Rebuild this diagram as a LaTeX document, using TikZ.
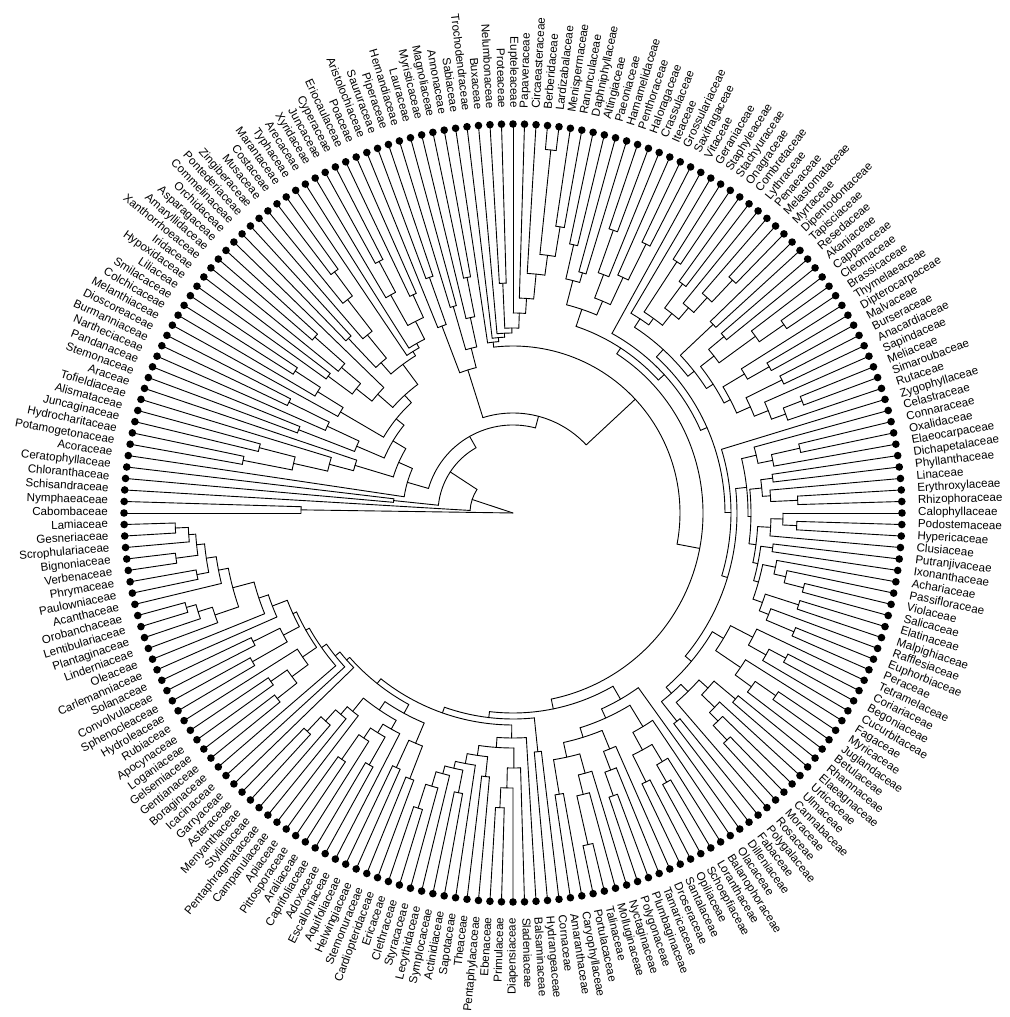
\documentclass[tikz,border=0pt]{standalone}
\usepackage{fontspec}
\setmainfont{Liberation Sans}
\newcount\tipcnt
\def\Rtip{389}
\def\stepang{1.6981132}
\def\kids{}
\newcommand\Lf{%
  \global\advance\tipcnt by 1\relax
  \pgfmathsetmacro\mytang{180-(\the\tipcnt-1)*\stepang}%
  \ifx\kids\empty\edef\kids{\mytang/\Rtip}\else\edef\kids{\kids,\mytang/\Rtip}\fi
}
\newcommand\Nd[2]{%
  \begingroup
  \def\kids{}%
  \def\myr{#1}%
  #2%
  \gdef\myksum{0}\gdef\mykcnt{0}\gdef\mykfirst{}\gdef\myklast{}%
  \foreach \ka/\kr in \kids {%
    \ifx\mykfirst\empty\xdef\mykfirst{\ka}\fi
    \xdef\myklast{\ka}%
    \pgfmathsetmacro\mytmp{\myksum+(\ka)}\xdef\myksum{\mytmp}%
    \pgfmathsetmacro\mytmp{\mykcnt+1}\xdef\mykcnt{\mytmp}%
    \draw[br] (\ka:\myr pt) -- (\ka:\kr pt);
  }%
  \ifdim\myr pt>0.5pt
    \draw[br] (\mykfirst:\myr pt) arc[start angle=\mykfirst, end angle=\myklast, radius=\myr pt];
  \fi
  \pgfmathsetmacro\mytmp{\myksum/\mykcnt}%
  \xdef\retA{\mytmp}\xdef\retR{\myr}%
  \endgroup
  \ifx\kids\empty\edef\kids{\retA/\retR}\else\edef\kids{\kids,\retA/\retR}\fi
}
% ---- tree definition (tips in label order) ----
\def\tNymph{\Nd{212}{\Lf\Lf}}
\def\tChlor{\Nd{120}{\Lf\Lf}}
\def\tAlism{\Nd{165}{\Nd{190}{\Nd{225}{\Nd{275}{\Lf\Lf}\Nd{262}{\Lf\Lf}}\Lf}\Lf}}
\def\tPanDio{\Nd{170}{\Nd{230}{\Lf\Lf}\Nd{205}{\Lf\Nd{250}{\Lf\Lf}}}}
\def\tLil{\Nd{200}{\Lf\Nd{230}{\Lf\Nd{260}{\Lf\Lf}}}}
\def\tAsp{\Nd{180}{\Nd{200}{\Nd{230}{\Lf\Lf}\Nd{225}{\Lf\Nd{265}{\Lf\Lf}}}\Lf}}
\def\tComZin{\Nd{200}{\Nd{240}{\Lf\Lf}\Nd{230}{\Lf\Nd{270}{\Lf\Nd{300}{\Lf\Lf}}}}}
\def\tPoal{\Nd{190}{\Lf\Nd{195}{\Lf\Nd{215}{\Nd{250}{\Lf\Nd{285}{\Lf\Lf}}\Nd{240}{\Lf\Lf}}}}}
\def\tMonocots{\Nd{110}{\Lf\Nd{125}{\tAlism\Nd{140}{\tPanDio\Nd{150}{\tLil\Nd{160}{\tAsp\Nd{185}{\tComZin\tPoal}}}}}}}
\def\tMagn{\Nd{150}{\Nd{200}{\Lf\Nd{250}{\Lf\Lf}}\Nd{170}{\Nd{215}{\Lf\Lf}\Nd{200}{\Lf\Nd{240}{\Lf\Lf}}}}}
\def\tRanun{\Nd{200}{\Lf\Nd{215}{\Lf\Nd{240}{\Lf\Nd{260}{\Nd{365}{\Lf\Lf}\Nd{290}{\Lf\Lf}}}}}}
\def\tBasal{\Nd{172}{\Lf\Nd{176}{\Lf\Nd{180}{\Lf\Nd{185}{\Nd{230}{\Lf\Lf}\tRanun}}}}}
\def\tSax{\Nd{215}{\Nd{240}{\Nd{275}{\Lf\Lf}\Nd{250}{\Lf\Lf}}\Nd{230}{\Nd{255}{\Nd{300}{\Lf\Lf}\Lf}\Nd{260}{\Lf\Nd{300}{\Lf\Lf}}}}}
\def\tMyrt{\Nd{255}{\Nd{285}{\Lf\Lf}\Nd{270}{\Lf\Nd{290}{\Lf\Nd{320}{\Lf\Lf}}}}}
\def\tMalvA{\Nd{232}{\Lf\Nd{240}{\Nd{300}{\Lf\Lf}\tMyrt}}}
\def\tBrass{\Nd{255}{\Nd{275}{\Lf\Lf}\Nd{300}{\Lf\Nd{330}{\Lf\Lf}}}}
\def\tMalv{\Nd{270}{\Lf\Nd{295}{\Lf\Lf}}}
\def\tSapin{\Nd{260}{\Nd{300}{\Lf\Lf}\Nd{275}{\Lf\Nd{290}{\Nd{310}{\Lf\Lf}\Lf}}}}
\def\tMalvB{\Nd{230}{\Nd{275}{\Lf\Lf}\Nd{238}{\tBrass\Nd{245}{\tMalv\tSapin}}}}
\def\tMalvids{\Nd{222}{\tMalvA\tMalvB}}
\def\tOxal{\Nd{250}{\Lf\Nd{265}{\Nd{294}{\Lf\Lf}\Lf}}}
\def\tMalpA{\Nd{250}{\Nd{262}{\Lf\Lf}\Nd{258}{\Lf\Nd{285}{\Lf\Lf}}}}
\def\tMalpB{\Nd{258}{\Nd{270}{\Lf\Nd{284}{\Lf\Lf}}\Lf}}
\def\tMalpC{\Nd{250}{\Nd{262}{\Lf\Lf}\Nd{255}{\Nd{268}{\Lf\Nd{280}{\Lf\Nd{300}{\Lf\Lf}}}\Nd{265}{\Nd{300}{\Lf\Lf}\Nd{275}{\Lf\Nd{305}{\Lf\Lf}}}}}}
\def\tMalp{\Nd{238}{\tMalpA\Nd{245}{\tMalpB\tMalpC}}}
\def\tCOM{\Nd{235}{\tOxal\tMalp}}
\def\tCucFag{\Nd{245}{\Nd{270}{\Lf\Nd{290}{\Nd{309}{\Lf\Lf}\Lf}}\Nd{275}{\Lf\Nd{295}{\Nd{320}{\Lf\Lf}\Lf}}}}
\def\tRosFab{\Nd{240}{\Nd{250}{\Nd{262}{\Nd{290}{\Lf\Lf}\Nd{280}{\Lf\Nd{292}{\Lf\Nd{312}{\Lf\Lf}}}}\Lf}\Nd{265}{\Lf\Lf}}}
\def\tFabids{\Nd{218}{\Lf\Nd{224}{\tCOM\Nd{232}{\tCucFag\tRosFab}}}}
\def\tRos{\Nd{205}{\Lf\Nd{212}{\tMalvids\tFabids}}}
\def\tSant{\Nd{250}{\Lf\Nd{270}{\Nd{290}{\Lf\Nd{310}{\Lf\Lf}}\Nd{300}{\Lf\Lf}}}}
\def\tCary{\Nd{235}{\Nd{255}{\Lf\Nd{275}{\Lf\Nd{300}{\Lf\Lf}}}\Nd{250}{\Nd{270}{\Lf\Nd{290}{\Lf\Nd{340}{\Lf\Lf}}}\Nd{285}{\Lf\Lf}}}}
\def\tEricB{\Nd{262}{\Nd{285}{\Lf\Lf}\Nd{270}{\Lf\Nd{285}{\Lf\Nd{310}{\Lf\Lf}}}}}
\def\tEric{\Nd{225}{\Lf\Nd{235}{\Nd{255}{\Lf\Nd{275}{\Lf\Nd{295}{\Lf\Lf}}}\Nd{245}{\Nd{265}{\Lf\Lf}\Nd{255}{\Lf\tEricB}}}}}
\def\tAquif{\Nd{250}{\Nd{285}{\Lf\Lf}\Nd{280}{\Lf\Lf}}}
\def\tDipAp{\Nd{248}{\Lf\Nd{258}{\Nd{290}{\Lf\Lf}\Nd{270}{\Lf\Nd{300}{\Lf\Lf}}}}}
\def\tAster{\Nd{255}{\Lf\Nd{265}{\Lf\Nd{280}{\Lf\Nd{300}{\Lf\Lf}}}}}
\def\tCamp{\Nd{228}{\tAquif\Nd{238}{\tDipAp\tAster}}}
\def\tGent{\Nd{255}{\Nd{275}{\Nd{300}{\Lf\Lf}\Nd{295}{\Lf\Lf}}\Lf}}
\def\tSol{\Nd{260}{\Nd{300}{\Lf\Lf}\Nd{290}{\Lf\Lf}}}
\def\tLamiA{\Nd{315}{\Lf\Nd{330}{\Lf\Nd{340}{\Lf\Lf}}}}
\def\tLamiB{\Nd{300}{\Lf\Nd{310}{\Nd{322}{\Lf\Lf}\Nd{318}{\Nd{340}{\Lf\Lf}\Nd{325}{\Lf\Nd{338}{\Lf\Lf}}}}}}
\def\tLami{\Nd{258}{\Lf\Nd{268}{\Lf\Nd{290}{\tLamiA\tLamiB}}}}
\def\tLamG{\Nd{222}{\Lf\Nd{228}{\Lf\Nd{234}{\Lf\Nd{238}{\tGent\Nd{242}{\tSol\tLami}}}}}}
\def\tAst{\Nd{206}{\Nd{240}{\Lf\Lf}\Nd{212}{\tEric\Nd{218}{\tCamp\tLamG}}}}
\def\tSuper{\Nd{200}{\Nd{215}{\Lf\Nd{225}{\tSant\tCary}}\tAst}}
\def\tCore{\Nd{190}{\Nd{197}{\tSax\tRos}\tSuper}}
\def\tEud{\Nd{167}{\tBasal\tCore}}
\def\tAll{\Nd{0}{\tNymph\Nd{43}{\Lf\Nd{75}{\tChlor\Nd{88}{\tMonocots\Nd{100}{\tMagn\tEud}}}}}}
\begin{document}
\begin{tikzpicture}[
  br/.style={line width=0.9pt, line cap=round, line join=round, black},
  lab/.style={font=\fontsize{11.6}{12}\selectfont, inner sep=0pt, text=black}]
\useasboundingbox (-513pt,-504pt) rectangle (496pt,513pt);
\tAll
\foreach \nm [count=\i] in {Cabombaceae,Nymphaeaceae,Schisandraceae,Chloranthaceae,Ceratophyllaceae,Acoraceae,Potamogetonaceae,Hydrocharitaceae,Juncaginaceae,Alismataceae,
Tofieldiaceae,Araceae,Stemonaceae,Pandanaceae,Nartheciaceae,Burmanniaceae,Dioscoreaceae,Melanthiaceae,Colchicaceae,Smilacaceae,
Liliaceae,Hypoxidaceae,Iridaceae,Xanthorrhoeaceae,Amaryllidaceae,Asparagaceae,Orchidaceae,Commelinaceae,Pontederiaceae,Zingiberaceae,
Musaceae,Costaceae,Marantaceae,Typhaceae,Arecaceae,Xyridaceae,Juncaceae,Cyperaceae,Eriocaulaceae,Poaceae,
Aristolochiaceae,Saururaceae,Piperaceae,Hernandiaceae,Lauraceae,Myristicaceae,Magnoliaceae,Annonaceae,Sabiaceae,Trochodendraceae,
Buxaceae,Nelumbonaceae,Proteaceae,Eupteleaceae,Papaveraceae,Circaeasteraceae,Berberidaceae,Lardizabalaceae,Menispermaceae,Ranunculaceae,
Daphniphyllaceae,Altingiaceae,Paeoniaceae,Hamamelidaceae,Penthoraceae,Haloragaceae,Crassulaceae,Iteaceae,Grossulariaceae,Saxifragaceae,
Vitaceae,Geraniaceae,Staphyleaceae,Stachyuraceae,Onagraceae,Combretaceae,Lythraceae,Penaeaceae,Melastomataceae,Myrtaceae,
Dipentodontaceae,Tapisciaceae,Resedaceae,Akaniaceae,Capparaceae,Cleomaceae,Brassicaceae,Thymelaeaceae,Dipterocarpaceae,Malvaceae,
Burseraceae,Anacardiaceae,Sapindaceae,Meliaceae,Simaroubaceae,Rutaceae,Zygophyllaceae,Celastraceae,Connaraceae,Oxalidaceae,
Elaeocarpaceae,Dichapetalaceae,Phyllanthaceae,Linaceae,Erythroxylaceae,Rhizophoraceae,Calophyllaceae,Podostemaceae,Hypericaceae,Clusiaceae,
Putranjivaceae,Ixonanthaceae,Achariaceae,Passifloraceae,Violaceae,Salicaceae,Elatinaceae,Malpighiaceae,Rafflesiaceae,Euphorbiaceae,
Peraceae,Tetramelaceae,Coriariaceae,Begoniaceae,Cucurbitaceae,Fagaceae,Myricaceae,Juglandaceae,Betulaceae,Rhamnaceae,
Elaeagnaceae,Urticaceae,Ulmaceae,Cannabaceae,Moraceae,Rosaceae,Polygalaceae,Fabaceae,Dilleniaceae,Olacaceae,
Balanophoraceae,Loranthaceae,Schoepfiaceae,Opiliaceae,Santalaceae,Droseraceae,Tamaricaceae,Plumbaginaceae,Polygonaceae,Nyctaginaceae,
Molluginaceae,Talinaceae,Portulacaceae,Caryophyllaceae,Amaranthaceae,Cornaceae,Hydrangeaceae,Balsaminaceae,Sladeniaceae,Diapensiaceae,
Primulaceae,Ebenaceae,Pentaphylacaceae,Theaceae,Sapotaceae,Actinidiaceae,Symplocaceae,Lecythidaceae,Styracaceae,Clethraceae,
Ericaceae,Cardiopteridaceae,Stemonuraceae,Helwingiaceae,Aquifoliaceae,Escalloniaceae,Adoxaceae,Caprifoliaceae,Araliaceae,Pittosporaceae,
Apiaceae,Campanulaceae,Pentaphragmataceae,Stylidiaceae,Menyanthaceae,Asteraceae,Garryaceae,Icacinaceae,Boraginaceae,Gentianaceae,
Gelsemiaceae,Loganiaceae,Apocynaceae,Rubiaceae,Hydroleaceae,Sphenocleaceae,Convolvulaceae,Solanaceae,Carlemanniaceae,Oleaceae,
Linderniaceae,Plantaginaceae,Lentibulariaceae,Orobanchaceae,Acanthaceae,Paulowniaceae,Phrymaceae,Verbenaceae,Bignoniaceae,Scrophulariaceae,
Gesneriaceae,Lamiaceae} {
  \pgfmathsetmacro\ang{180-(\i-1)*\stepang}
  \fill (\ang:389pt) circle[radius=3.8pt];
  \ifdim\ang pt<89.99pt
    \ifdim\ang pt>-89.99pt
      \node[lab, anchor=mid west, rotate=\ang] (l\i) at (\ang:405pt) {\nm};
    \else
      \pgfmathsetmacro\rot{\ang+180}
      \node[lab, anchor=mid east, rotate=\rot] (l\i) at (\ang:405pt) {\nm};
    \fi
  \else
    \pgfmathsetmacro\rot{\ang-180}
    \node[lab, anchor=mid east, rotate=\rot] (l\i) at (\ang:405pt) {\nm};
  \fi
}
\end{tikzpicture}
\end{document}
